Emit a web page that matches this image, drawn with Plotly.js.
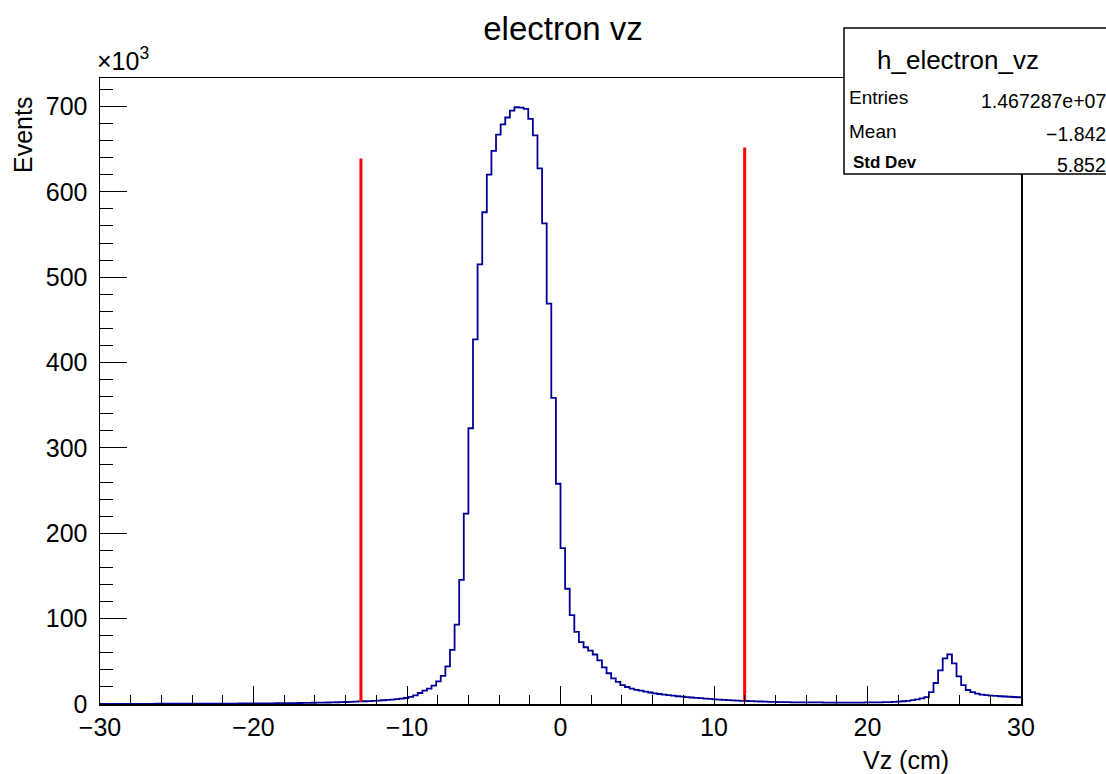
<!DOCTYPE html>
<html>
<head>
<meta charset="utf-8">
<script src="https://cdn.plot.ly/plotly-3.0.1.min.js"></script>
<style>html,body{margin:0;padding:0;background:#fff;}#chart{width:1106px;height:774px;}</style>
</head>
<body>
<div id="chart"></div>
<script>
// ---- data (counts per bin, in thousands of events; 200 bins of 0.3 cm from -30 to 30) ----
const xMin = -30;
const xMax = 30;
const nBins = 200;
const countsK = [
  0.20,0.20,0.21,0.21,0.22,0.22,0.23,0.23,0.24,0.25,
  0.25,0.26,0.27,0.28,0.29,0.30,0.31,0.32,0.33,0.34,
  0.35,0.37,0.38,0.40,0.42,0.44,0.46,0.48,0.50,0.53,
  0.56,0.59,0.62,0.65,0.69,0.73,0.77,0.82,0.87,0.92,
  0.98,1.04,1.11,1.18,1.26,1.35,1.44,1.54,1.65,1.77,
  1.90,2.04,2.20,2.37,2.55,2.75,2.97,3.21,3.47,3.75,
  4.06,4.40,4.78,5.20,5.70,6.30,7.0,8.3,10.0,12.9,
  15.6,18.0,21.5,26.5,33,44,63.5,93,145.5,223,
  323,427,515,576,620,648,667,679,687,695,
  699,698.5,697,685.5,666,627.5,563,469,358.5,258,
  182.5,135,104,84.5,72.5,66.5,62.5,58,51,43,
  36,30,25.8,22.2,19.9,17.9,16.6,15.6,14.5,13.5,
  12.5,11.7,11.0,10.3,9.7,9.1,8.6,8.1,7.6,7.2,
  6.8,6.4,5.9,5.5,5.2,4.9,4.6,4.3,4.0,3.7,
  3.5,3.3,3.1,2.9,2.7,2.5,2.4,2.3,2.2,2.1,
  2.0,2.0,1.9,1.9,1.8,1.8,1.8,1.7,1.7,1.7,
  1.7,1.7,1.7,1.7,1.7,1.7,1.8,1.8,1.9,2.0,
  2.1,2.3,2.5,2.8,3.2,3.7,4.5,5.5,6.6,8.0,
  14,24.6,39.4,53.4,58.1,47.6,32.4,22.2,16.4,14.0,
  12.1,11.0,10.4,9.9,9.5,9.1,8.8,8.5,8.2,7.9
];
// vertical cut lines (x in cm, y in thousands)
const cutX = [-13, 12];
const cutTopK = [639, 652];
const cutBottomK = [2.6, 3.4];
// stats box
const statsName = "h_electron_vz";
const statsLabels = ["Entries", "Mean", "Std Dev"];
const statsValues = ["1.467287e+07", "\u22121.842", "5.852"];
// tick labels
const yTicks = [0, 100, 200, 300, 400, 500, 600, 700];
const xTicks = [-30, -20, -10, 0, 10, 20, 30];

// ---- geometry ----
const W = 1106, H = 774;
const mL = 100, mR = 85, mT = 78, mB = 70;
const pw = W - mL - mR, ph = H - mT - mB;
const px = p => (p - mL) / pw;
const py = p => (H - mB - p) / ph;

// ---- histogram outline ----
const binW = (xMax - xMin) / nBins;
const hx = [], hy = [];
for (let i = 0; i < nBins; i++) { hx.push(xMin + i * binW); hy.push(countsK[i]); }
hx.push(xMax); hy.push(countsK[nBins - 1]);

const traces = [
  {x: hx, y: hy, type: 'scatter', mode: 'lines', line: {shape: 'hv', color: '#000099', width: 1.8}, hoverinfo: 'skip', showlegend: false}
];
for (let k = 0; k < cutX.length; k++) {
  traces.push({x: [cutX[k], cutX[k]], y: [cutBottomK[k], cutTopK[k]], type: 'scatter', mode: 'lines',
    line: {color: '#ff0000', width: 3}, hoverinfo: 'skip', showlegend: false});
}

const FONT = 'Liberation Sans, Arial, sans-serif';
const ann = [];
ann.push({xref: 'paper', yref: 'paper', x: px(951), y: py(760), xanchor: 'right', yanchor: 'middle',
  text: 'Vz (cm)', showarrow: false, font: {family: FONT, size: 25, color: '#000'}});
ann.push({xref: 'paper', yref: 'paper', x: px(23), y: py(135), xanchor: 'center', yanchor: 'middle', textangle: -90,
  text: 'Events', showarrow: false, font: {family: FONT, size: 25, color: '#000'}});
ann.push({xref: 'paper', yref: 'paper', x: px(95), y: py(77), xanchor: 'left', yanchor: 'bottom',
  text: '\u00d710<sup>3</sup>', showarrow: false, font: {family: FONT, size: 25, color: '#000'}});
// stats box text
ann.push({xref: 'paper', yref: 'paper', x: px(958), y: py(60), xanchor: 'center', yanchor: 'middle',
  text: statsName, showarrow: false, font: {family: FONT, size: 26, color: '#000'}});
const rowY = [98, 131, 162];
const valY = [101, 134, 165];
for (let k = 0; k < statsLabels.length; k++) {
  ann.push({xref: 'paper', yref: 'paper', x: px(k === 2 ? 851 : 847), y: py(rowY[k]), xanchor: 'left', yanchor: 'middle',
    text: k === 2 ? '<b>' + statsLabels[k] + '</b>' : statsLabels[k], showarrow: false,
    font: {family: FONT, size: k === 2 ? 17 : 19, color: '#000'}});
  ann.push({xref: 'paper', yref: 'paper', x: px(1108), y: py(valY[k]), xanchor: 'right', yanchor: 'middle',
    text: statsValues[k], showarrow: false, font: {family: FONT, size: 19.5, color: '#000'}});
}

const layout = {
  width: W, height: H,
  margin: {l: mL, r: mR, t: mT, b: mB, pad: 0},
  paper_bgcolor: '#fff', plot_bgcolor: '#fff',
  title: {text: 'electron vz', font: {family: FONT, size: 33, color: '#000'},
    x: 563 / W, xref: 'container', xanchor: 'center', y: 1 - 28 / H, yref: 'container', yanchor: 'middle'},
  font: {family: FONT, color: '#000'},
  xaxis: {range: [xMin, xMax], tickvals: xTicks, ticktext: xTicks.map(v => v < 0 ? '\u2212' + Math.abs(v) : String(v)),
    ticks: 'inside', ticklen: 18, tickwidth: 1, tickcolor: '#000',
    minor: {dtick: 2, tick0: 0, ticks: 'inside', ticklen: 9, tickwidth: 1, tickcolor: '#000', showgrid: false},
    showline: true, linecolor: '#000', linewidth: 1.5, mirror: true, showgrid: false, zeroline: false,
    tickfont: {family: FONT, size: 25, color: '#000'}, ticklabelstandoff: 0},
  yaxis: {range: [0, ph / 0.8537], tickvals: yTicks, ticks: 'inside', ticklen: 27, tickwidth: 1, tickcolor: '#000',
    minor: {dtick: 20, tick0: 0, ticks: 'inside', ticklen: 13, tickwidth: 1, tickcolor: '#000', showgrid: false},
    showline: true, linecolor: '#000', linewidth: 1.5, mirror: true, showgrid: false, zeroline: false,
    tickfont: {family: FONT, size: 25, color: '#000'}, ticklabelstandoff: 6},
  shapes: [
    {type: 'rect', xref: 'paper', yref: 'paper', x0: px(844), x1: px(1110), y0: py(174), y1: py(28),
      fillcolor: '#fff', line: {color: '#000', width: 1.5}, layer: 'above'}
  ],
  annotations: ann,
  showlegend: false
};

Plotly.newPlot('chart', traces, layout, {staticPlot: true, displayModeBar: false});
</script>
</body>
</html>
